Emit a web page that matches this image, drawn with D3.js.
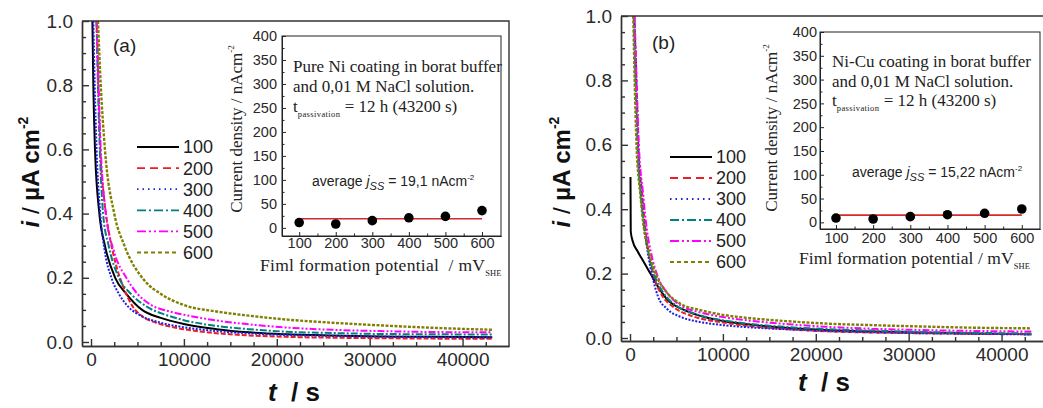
<!DOCTYPE html>
<html>
<head>
<meta charset="utf-8">
<script src="https://cdn.jsdelivr.net/npm/d3@7"></script>
<style>
  body { margin: 0; background: #fff; }
  text { white-space: pre; }
</style>
</head>
<body>
<svg id="chart"></svg>
<script>
// film formation potentials (mV SHE), one transient per potential
const potentials = [100, 200, 300, 400, 500, 600];
const seriesColors = ['#000000', '#ee1c25', '#1f1fe0', '#008080', '#ff00ff', '#808000'];
const seriesDash = [null, '8,5', '1.5,4', '9,3,2,3', '9,3,2,3,2,3', '4,3'];
// data are dense and noisy, so the transients read almost solid
const curveDash = [null, '5,2', '2,1.5', '7,2,2,2', '7,2,2,2,2,2', '3,1.5'];

// panel (a) pure Ni: [t (s), i (uA cm-2)]
const a100 = [[150,1.0],[250,0.8],[430,0.6],[900,0.4],[1500,0.3],[2600,0.2],[3800,0.15],[5500,0.1],[7500,0.075],[10000,0.056],[13500,0.04],[17000,0.03],[21000,0.024],[26000,0.02],[31000,0.017],[37000,0.016],[43200,0.015]];
const a200 = [[600,1.0],[800,0.8],[1000,0.6],[1400,0.45],[2000,0.33],[2600,0.25],[3500,0.17],[4500,0.11],[5500,0.08],[7000,0.06],[9000,0.045],[12000,0.032],[16000,0.022],[21000,0.016],[27000,0.013],[34000,0.011],[43200,0.01]];
const a300 = [[250,1.0],[400,0.8],[600,0.6],[1000,0.4],[1500,0.28],[2200,0.2],[3000,0.15],[4000,0.11],[5500,0.08],[7500,0.06],[10000,0.046],[13500,0.034],[17000,0.027],[21000,0.022],[26000,0.019],[31000,0.017],[37000,0.015],[43200,0.014]];
const a400 = [[600,1.0],[750,0.8],[950,0.6],[1300,0.4],[1900,0.3],[3000,0.2],[4300,0.15],[6000,0.11],[8000,0.085],[10000,0.068],[13500,0.05],[17000,0.04],[21000,0.032],[26000,0.028],[31000,0.025],[37000,0.024],[43200,0.023]];
const a500 = [[600,1.0],[800,0.8],[1050,0.6],[1600,0.4],[2500,0.28],[3800,0.2],[5000,0.15],[6500,0.115],[8500,0.095],[10000,0.085],[13500,0.067],[17000,0.055],[21000,0.045],[26000,0.038],[31000,0.034],[37000,0.031],[43200,0.03]];
const a600 = [[750,1.0],[1050,0.8],[1500,0.6],[2500,0.4],[3600,0.3],[5800,0.19],[7500,0.15],[10000,0.115],[13500,0.095],[17000,0.082],[21000,0.07],[26000,0.06],[31000,0.052],[37000,0.044],[43200,0.038]];

// panel (b) Ni-Cu
const b100 = [[50,0.5],[80,0.33],[300,0.3],[800,0.27],[1200,0.25],[1700,0.225],[2200,0.2],[3000,0.16],[4000,0.12],[6000,0.085],[8000,0.065],[10000,0.053],[13500,0.04],[17000,0.031],[21000,0.025],[26000,0.02],[31000,0.017],[37000,0.014],[43200,0.012]];
const b200 = [[450,1.0],[700,0.8],[900,0.6],[1300,0.45],[1700,0.33],[2100,0.25],[2700,0.18],[3500,0.13],[4500,0.1],[6500,0.07],[8500,0.055],[10000,0.048],[13500,0.035],[17000,0.027],[21000,0.021],[26000,0.017],[31000,0.015],[37000,0.013],[43200,0.012]];
const b300 = [[450,1.0],[650,0.8],[850,0.6],[1200,0.45],[1600,0.33],[2000,0.25],[2500,0.18],[3000,0.13],[4000,0.09],[5500,0.065],[7500,0.05],[10000,0.04],[13500,0.032],[17000,0.027],[21000,0.022],[26000,0.018],[31000,0.015],[37000,0.013],[43200,0.011]];
const b400 = [[400,1.0],[600,0.8],[800,0.6],[1150,0.45],[1600,0.33],[2100,0.25],[2700,0.19],[3600,0.14],[5000,0.1],[7000,0.075],[9000,0.06],[10000,0.055],[13500,0.042],[17000,0.034],[21000,0.028],[26000,0.023],[31000,0.019],[37000,0.016],[43200,0.014]];
const b500 = [[500,1.0],[700,0.8],[950,0.6],[1400,0.45],[1800,0.34],[2300,0.26],[3000,0.19],[4000,0.14],[5500,0.1],[7500,0.08],[10000,0.065],[13500,0.052],[17000,0.043],[21000,0.035],[26000,0.029],[31000,0.025],[37000,0.022],[43200,0.02]];
const b600 = [[350,1.0],[500,0.8],[700,0.6],[1100,0.45],[1500,0.34],[2100,0.26],[2900,0.19],[4000,0.14],[5500,0.105],[7500,0.087],[10000,0.072],[13500,0.06],[17000,0.052],[21000,0.045],[26000,0.04],[31000,0.036],[37000,0.032],[43200,0.03]];

// inset: steady-state current density (nA cm-2) vs potential
const jssA = [11, 8, 15, 21, 24, 36];
const jssB = [9, 7, 12, 16, 19, 28];
const avgA = 19.1, avgB = 15.22;

const xTicks = [0, 10000, 20000, 30000, 40000];
const yTicks = [0, 0.2, 0.4, 0.6, 0.8, 1.0];
const insetYTicks = [0, 50, 100, 150, 200, 250, 300, 350, 400];

const W = 1043, H = 408;
const SANS = '"Liberation Sans", Arial, sans-serif';
const SERIF = '"Liberation Serif", "Times New Roman", serif';

const svg = d3.select('#chart').attr('width', W).attr('height', H);

function panel(p) {
  const g = svg.append('g');
  const x = d3.scaleLinear().domain([-970, 45000]).range([p.left, p.right]);
  const y = d3.scaleLinear().domain([p.yMin, 1]).range([p.bottom, p.top]);

  svg.append('clipPath').attr('id', 'clip' + p.id)
    .append('rect').attr('x', p.left).attr('y', p.top)
    .attr('width', p.right - p.left).attr('height', p.bottom - p.top);

  const line = d3.line().x(d => x(d[0])).y(d => y(d[1])).curve(d3.curveMonotoneX);
  g.append('g').attr('clip-path', `url(#clip${p.id})`)
    .selectAll('path').data(p.curves).join('path')
    .attr('d', d => line(d))
    .attr('fill', 'none')
    .attr('stroke', (d, i) => seriesColors[i])
    .attr('stroke-width', (d, i) => i === 5 ? 2.4 : 2)
    .attr('stroke-dasharray', (d, i) => curveDash[i]);

  // axes, ticks point inward
  const minorX = d3.range(2500, 45000, 2500).filter(v => v % 10000);
  const minorY = d3.range(0.05, 1, 0.05).filter(v => Math.abs(v * 5 - Math.round(v * 5)) > 1e-6);
  g.append('g').attr('transform', `translate(0,${p.bottom})`)
    .call(d3.axisBottom(x).tickValues(xTicks).tickSize(-7).tickSizeOuter(0).tickPadding(7).tickFormat(d3.format('d')));
  g.append('g').attr('transform', `translate(0,${p.bottom})`)
    .call(d3.axisBottom(x).tickValues(minorX).tickSize(-4).tickSizeOuter(0).tickFormat(''));
  g.append('g').attr('transform', `translate(${p.left},0)`)
    .call(d3.axisLeft(y).tickValues(yTicks).tickSize(-7).tickSizeOuter(0).tickPadding(9).tickFormat(d3.format('.1f')));
  g.append('g').attr('transform', `translate(${p.left},0)`)
    .call(d3.axisLeft(y).tickValues(minorY).tickSize(-4).tickSizeOuter(0).tickFormat(''));
  g.selectAll('.domain, .tick line').attr('stroke', '#333').attr('stroke-width', 1.4);
  g.selectAll('.tick text').attr('font-family', SANS).attr('font-size', 19).attr('fill', '#2a2a2a');

  g.append('path')
    .attr('d', `M${p.left},${p.top}H${p.right}V${p.bottom}`)
    .attr('fill', 'none').attr('stroke', '#333').attr('stroke-width', 1.4);

  // axis titles
  const yl = g.append('text')
    .attr('transform', `translate(${p.yLabelX},${p.yLabelY}) rotate(-90)`)
    .attr('text-anchor', 'middle').attr('font-family', SANS).attr('font-size', 24)
    .attr('font-weight', 'bold').attr('fill', '#111');
  yl.append('tspan').attr('font-style', 'italic').text('i');
  yl.append('tspan').attr('font-weight', 'normal').text(' / ');
  yl.append('tspan').text('\u00b5A cm');
  yl.append('tspan').attr('font-size', 14).attr('dy', -11).text('-2');

  const xl = g.append('text')
    .attr('x', p.xLabelX).attr('y', p.xLabelY)
    .attr('text-anchor', 'middle').attr('font-family', SANS).attr('font-size', 26)
    .attr('font-weight', 'bold').attr('fill', '#111');
  xl.append('tspan').attr('font-style', 'italic').text('t');
  xl.append('tspan').text('  / s');

  g.append('text').attr('x', p.tagX).attr('y', p.tagY)
    .attr('font-family', SANS).attr('font-size', 19).attr('fill', '#222').text(p.tag);

  // legend
  const lg = g.append('g');
  potentials.forEach((v, i) => {
    const yy = p.legY + i * p.legStep;
    lg.append('line').attr('x1', p.legX).attr('x2', p.legX + 42)
      .attr('y1', yy).attr('y2', yy)
      .attr('stroke', seriesColors[i]).attr('stroke-width', 1.8)
      .attr('stroke-dasharray', seriesDash[i]);
    lg.append('text').attr('x', p.legX + 46).attr('y', yy).attr('dy', '0.36em')
      .attr('font-family', SANS).attr('font-size', 18).attr('fill', '#222').text(v);
  });

  inset(g, p.inset);
}

function inset(parent, s) {
  const g = parent.append('g');
  const x = d3.scaleLinear().domain(s.xDomain).range([s.left, s.right]);
  const y = d3.scaleLinear().domain(s.yDomain).range([s.bottom, s.top]);

  g.append('rect').attr('x', s.left).attr('y', s.top)
    .attr('width', s.right - s.left).attr('height', s.bottom - s.top)
    .attr('fill', '#fff').attr('stroke', '#222').attr('stroke-width', 1);

  g.append('g').attr('transform', `translate(0,${s.bottom})`)
    .call(d3.axisBottom(x).tickValues(potentials).tickSize(-4).tickSizeOuter(0).tickPadding(s.xPad));
  g.append('g').attr('transform', `translate(0,${s.bottom})`)
    .call(d3.axisBottom(x).tickValues([150, 250, 350, 450, 550]).tickSize(-2.5).tickSizeOuter(0).tickFormat(''));
  g.append('g').attr('transform', `translate(${s.left},0)`)
    .call(d3.axisLeft(y).tickValues(insetYTicks).tickSize(-4).tickSizeOuter(0).tickPadding(s.yPad));
  g.append('g').attr('transform', `translate(${s.left},0)`)
    .call(d3.axisLeft(y).tickValues(d3.range(25, 400, 50)).tickSize(-2.5).tickSizeOuter(0).tickFormat(''));
  g.selectAll('.domain, .tick line').attr('stroke', '#222').attr('stroke-width', 1);
  g.selectAll('.tick text').attr('font-family', SANS).attr('font-size', 14.5).attr('fill', '#2a2a2a');

  g.append('line')
    .attr('x1', x(potentials[0])).attr('x2', x(potentials[5]))
    .attr('y1', y(s.avg)).attr('y2', y(s.avg))
    .attr('stroke', '#d42a2a').attr('stroke-width', 1.6);
  g.selectAll('circle.pt').data(s.values).join('circle')
    .attr('cx', (d, i) => x(potentials[i])).attr('cy', d => y(d))
    .attr('r', 4.8).attr('fill', '#000');

  // notes
  const lines = [s.title, 'and 0,01 M NaCl solution.'];
  lines.forEach((t, i) => {
    g.append('text').attr('x', s.noteX).attr('y', s.noteY + i * s.noteStep)
      .attr('font-family', SERIF).attr('font-size', 17).attr('fill', '#222').text(t);
  });
  const tp = g.append('text').attr('x', s.noteX).attr('y', s.noteY + 2 * s.noteStep)
    .attr('font-family', SERIF).attr('font-size', 17).attr('fill', '#222');
  tp.append('tspan').text('t');
  tp.append('tspan').attr('font-size', 8.5).attr('letter-spacing', 0.4).attr('dy', 5).text('passivation');
  tp.append('tspan').attr('dy', -5).text(' = 12 h (43200 s)');

  const av = g.append('text').attr('x', s.avgX).attr('y', s.avgY)
    .attr('font-family', SANS).attr('font-size', 14).attr('fill', '#222');
  av.append('tspan').text('average ');
  av.append('tspan').attr('font-style', 'italic').text('j');
  av.append('tspan').attr('font-style', 'italic').attr('font-size', 11).attr('dy', 4).text('SS');
  av.append('tspan').attr('dy', -4).text(' = ' + s.avgText + ' nAcm');
  av.append('tspan').attr('font-size', 8).attr('dy', -6).text('-2');

  const yl = g.append('text')
    .attr('transform', `translate(${s.yLabelX},${s.yLabelY}) rotate(-90)`)
    .attr('text-anchor', 'middle').attr('font-family', SERIF).attr('font-size', 17).attr('fill', '#222');
  yl.append('tspan').text('Current density / nAcm');
  yl.append('tspan').attr('font-size', 9).attr('dy', -8).text('-2');

  const xl = g.append('text').attr('x', s.xLabelX).attr('y', s.xLabelY)
    .attr('font-family', SERIF).attr('font-size', s.xLabelSize).attr('fill', '#222')
    .attr('letter-spacing', s.xLabelSpacing);
  xl.append('tspan').text(s.xLabel);
  xl.append('tspan').attr('font-size', 8.5).attr('letter-spacing', 0).attr('dy', 5).text('SHE');
}

panel({
  id: 'a', left: 82, right: 509, top: 21, bottom: 346, yMin: -0.0125,
  curves: [a100, a200, a300, a400, a500, a600],
  yLabelX: 39, yLabelY: 172, xLabelX: 294, xLabelY: 401,
  tag: '(a)', tagX: 113, tagY: 52,
  legX: 137, legY: 147, legStep: 21.1,
  inset: {
    left: 282, right: 501, top: 36, bottom: 236,
    xDomain: [53, 652], yDomain: [-17, 400], xPad: 2, yPad: 5,
    values: jssA, avg: avgA, avgText: '19,1',
    title: 'Pure Ni coating in borat buffer',
    noteX: 293, noteY: 72, noteStep: 20,
    avgX: 312, avgY: 186,
    yLabelX: 242, yLabelY: 129,
    xLabel: 'Fiml formation potential  / mV', xLabelX: 260, xLabelY: 271,
    xLabelSize: 17.5, xLabelSpacing: 0.3
  }
});

panel({
  id: 'b', left: 621, right: 1048, top: 16, bottom: 341, yMin: -0.0093,
  curves: [b100, b200, b300, b400, b500, b600],
  yLabelX: 570, yLabelY: 172, xLabelX: 824, xLabelY: 391,
  tag: '(b)', tagX: 652, tagY: 49,
  legX: 670, legY: 157, legStep: 21,
  inset: {
    left: 820, right: 1040, top: 32, bottom: 229,
    xDomain: [57, 649], yDomain: [-14, 400], xPad: 4, yPad: 3,
    values: jssB, avg: avgB, avgText: '15,22',
    title: 'Ni-Cu coating in borat buffer',
    noteX: 832, noteY: 67, noteStep: 19.5,
    avgX: 852, avgY: 177,
    yLabelX: 777, yLabelY: 128,
    xLabel: 'Fiml formation potential / mV', xLabelX: 799, xLabelY: 264,
    xLabelSize: 17.5, xLabelSpacing: 0.1
  }
});
</script>
</body>
</html>
